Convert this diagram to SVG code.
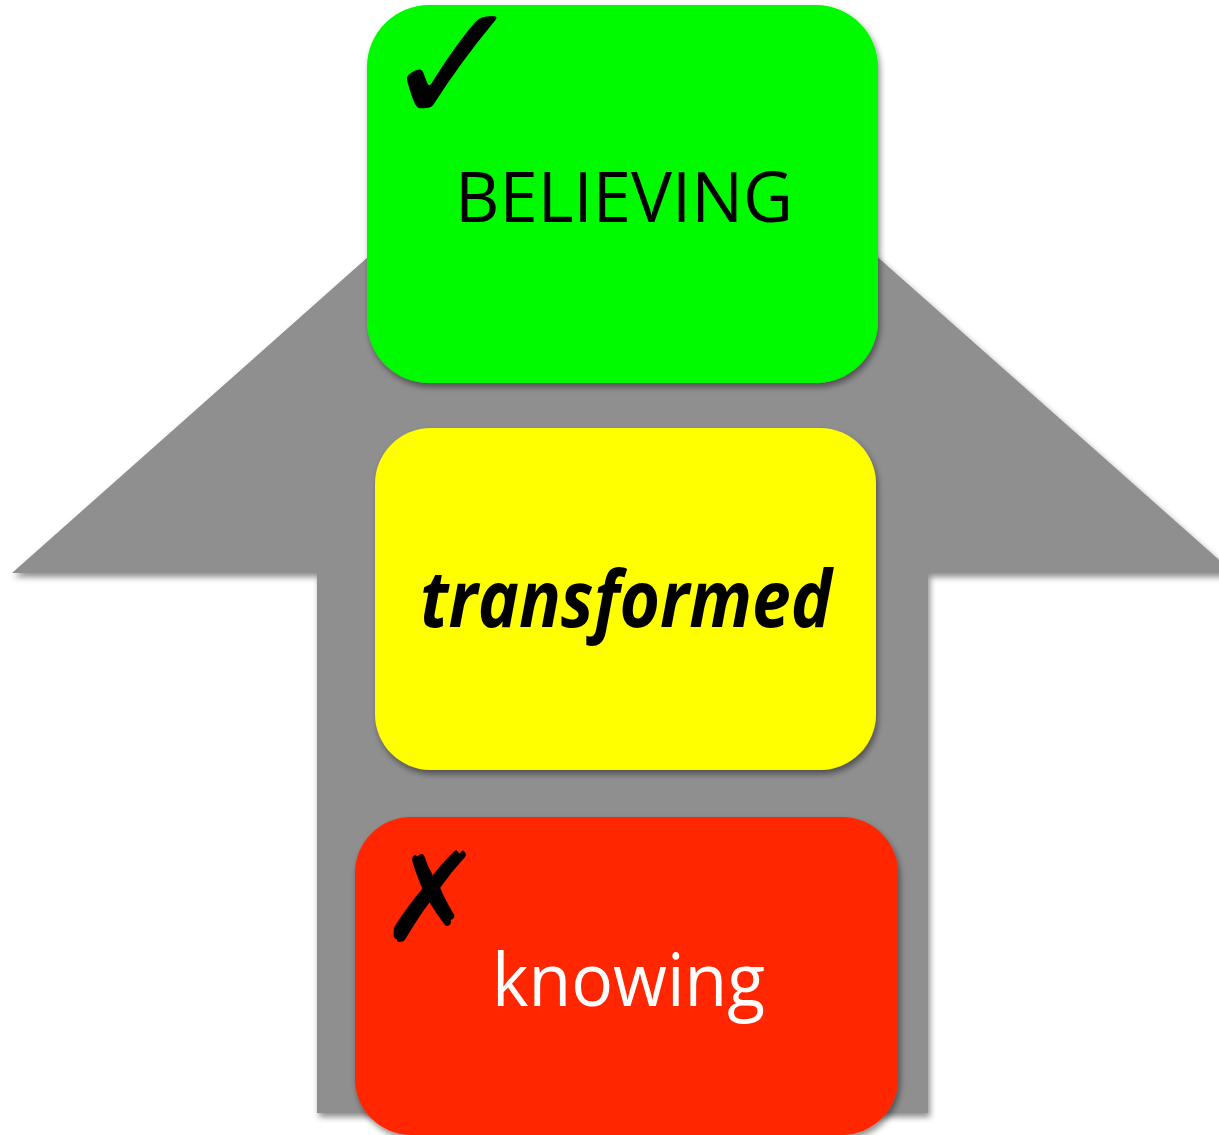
<svg xmlns="http://www.w3.org/2000/svg" width="1219" height="1135" viewBox="0 0 1219 1135">
<defs>
<filter id="sh" x="-10%" y="-10%" width="125%" height="125%">
<feGaussianBlur in="SourceAlpha" stdDeviation="3"/>
<feOffset dx="2" dy="4" result="b"/>
<feComponentTransfer><feFuncA type="linear" slope="0.45"/></feComponentTransfer>
<feMerge><feMergeNode/><feMergeNode in="SourceGraphic"/></feMerge>
</filter>
</defs>
<style>
.lbl{font-family:"Open Sans","Liberation Sans",sans-serif;text-anchor:start}
.sym{font-family:"DejaVu Sans",sans-serif;fill:#000}
</style>
<rect width="1219" height="1135" fill="#fff"/>
<g id="arrow">
<polygon points="622.5,31 1234,573 928,573 928,1113 317,1113 317,573 12,573" fill="#8f8f8f" filter="url(#sh)"/>
</g>
<g id="connectors"></g>
<g id="believing">
<rect x="367" y="5" width="511" height="378" rx="62" fill="#00fb00" filter="url(#sh)"/>
<text class="sym" x="381" y="125" font-size="173">✓</text>
<text class="lbl" x="455" y="222" font-size="70" textLength="338" lengthAdjust="spacingAndGlyphs" fill="#000">BELIEVING</text>
</g>
<g id="transformed">
<rect x="375" y="428" width="501" height="342" rx="56" fill="#ffff00" filter="url(#sh)"/>
<text class="lbl" x="420" y="627" font-size="78" font-weight="bold" font-style="italic" textLength="412" lengthAdjust="spacingAndGlyphs" fill="#000">transformed</text>
</g>
<g id="knowing">
<rect x="355" y="817" width="543" height="318" rx="56" fill="#ff2600" filter="url(#sh)"/>
<text class="sym" x="379" y="941" font-size="124">✗</text>
<text class="lbl" x="492" y="1006" font-size="74" textLength="273" lengthAdjust="spacingAndGlyphs" fill="#fff">knowing</text>
</g>
</svg>
